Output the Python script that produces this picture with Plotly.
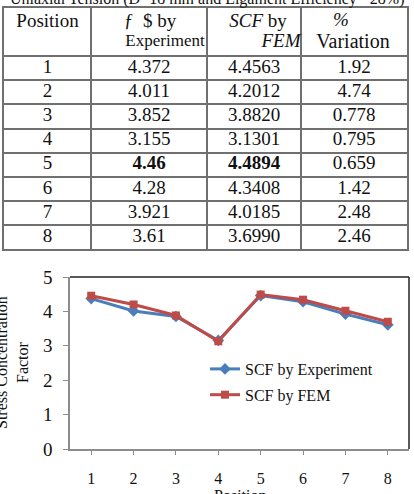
import plotly.graph_objects as go

# ---- data ----
positions = ["1", "2", "3", "4", "5", "6", "7", "8"]
scf_experiment = [4.372, 4.011, 3.852, 3.155, 4.46, 4.28, 3.921, 3.61]
scf_fem = [4.4563, 4.2012, 3.8820, 3.1301, 4.4894, 4.3408, 4.0185, 3.6990]
variation = [1.92, 4.74, 0.778, 0.795, 0.659, 1.42, 2.48, 2.46]
bold_position = "5"

header_line1 = ["Position", "ƒ  $ by", "<i>SCF</i> by", "<i>%</i>"]
header_line2 = ["", "Experiment", "<i>FEM</i>", "Variation"]
table_title = "Uniaxial Tension (D=18 mm and Ligament Efficiency =28%)"
series_names = ["SCF by Experiment", "SCF by FEM"]
y_ticks = [0, 1, 2, 3, 4, 5]

# ---- layout / style ----
W, H = 414, 494
SERIF = "Liberation Serif, Times New Roman, serif"
col_widths = [87, 116, 94, 106]
header_rows = 2          # header is two row-units tall
line1_shift = [0, 1, 4, -13]   # small horizontal offsets of header lines (px)
line1_y = [0.6, 0.6, 0.6, 0.55]
line2_shift = [0, 16, 27, -1]
line2_y = [1.42, 1.42, 1.42, 1.47]
line2_size = [19, 17, 19, 20]
GRID = "#707070"


def px_x(p):
    return p / W


def px_y(p):
    return 1 - p / H


def b(s, pos):
    return f"<b>{s}</b>" if pos == bold_position else s


col_edges = [0]
for w in col_widths:
    col_edges.append(col_edges[-1] + w)
col_centers = [(col_edges[i] + col_edges[i + 1]) / 2 for i in range(len(col_widths))]
n_rows = len(positions)
row_edges = [header_rows + i for i in range(n_rows)]

columns = [
    list(positions),
    [b(str(v), p) for v, p in zip(scf_experiment, positions)],
    [b(f"{v:.4f}", p) for v, p in zip(scf_fem, positions)],
    [str(v) for v in variation],
]

cell_x, cell_y, cell_t, cell_s = [], [], [], []
for j, col in enumerate(columns):
    for i, t in enumerate(col):
        cell_x.append(col_centers[j])
        cell_y.append(header_rows + i + 0.5)
        cell_t.append(t)
        cell_s.append(19)
for j in range(4):
    cell_x.append(col_centers[j] + line1_shift[j])
    cell_y.append(line1_y[j])
    cell_t.append(header_line1[j])
    cell_s.append(19)
    if header_line2[j]:
        cell_x.append(col_centers[j] + line2_shift[j])
        cell_y.append(line2_y[j])
        cell_t.append(header_line2[j])
        cell_s.append(line2_size[j])

fig = go.Figure()

# table drawn on its own axes
fig.add_trace(go.Scatter(
    x=cell_x, y=cell_y, text=cell_t, mode="text", textposition="middle center",
    textfont=dict(family=SERIF, size=cell_s, color="#111"),
    xaxis="x2", yaxis="y2", showlegend=False, hoverinfo="skip", cliponaxis=False,
))

fig.add_trace(go.Scatter(
    x=positions, y=scf_experiment, name=series_names[0], mode="lines+markers",
    line=dict(color="#4A7EBB", width=3),
    marker=dict(symbol="diamond", size=9, color="#4A7EBB"),
    legendgroup="a",
))
fig.add_trace(go.Scatter(
    x=positions, y=scf_fem, name=series_names[1], mode="lines+markers",
    line=dict(color="#BE4B48", width=3),
    marker=dict(symbol="square", size=8, color="#BE4B48"),
    legendgroup="b",
))

fig.update_layout(
    width=W, height=H,
    margin=dict(l=0, r=0, t=0, b=0),
    paper_bgcolor="white", plot_bgcolor="white",
    font=dict(family=SERIF, color="#111"),
    xaxis=dict(domain=[px_x(70), px_x(409)], type="category",
               range=[-0.5, 7.5], showgrid=False, zeroline=False,
               showline=True, linecolor="#8c8c8c", linewidth=1.5,
               ticks="outside", ticklen=4, tickcolor="#8c8c8c",
               ticklabelstandoff=10,
               tickfont=dict(family=SERIF, size=16, color="#111"),
               automargin=False, fixedrange=True),
    yaxis=dict(domain=[px_y(449), px_y(277)], range=[0, 5],
               tickvals=y_ticks, showgrid=False, zeroline=False,
               showline=True, linecolor="#8c8c8c", linewidth=1.5,
               ticks="outside", ticklen=5, tickcolor="#8c8c8c",
               ticklabelstandoff=7,
               tickfont=dict(family=SERIF, size=19, color="#111"),
               automargin=False, fixedrange=True),
    xaxis2=dict(domain=[px_x(4), px_x(407)], anchor="y2",
                range=[col_edges[0], col_edges[-1]],
                tickvals=col_edges[1:-1], showticklabels=False, ticks="",
                showgrid=True, gridcolor=GRID, gridwidth=1.5, zeroline=False,
                showline=True, mirror=True, linecolor=GRID, linewidth=1.5,
                automargin=False, fixedrange=True),
    yaxis2=dict(domain=[px_y(249), px_y(8)], anchor="x2",
                range=[header_rows + n_rows, 0],
                tickvals=row_edges, showticklabels=False, ticks="",
                showgrid=True, gridcolor=GRID, gridwidth=1.5, zeroline=False,
                showline=True, mirror=True, linecolor=GRID, linewidth=1.5,
                automargin=False, fixedrange=True),
    showlegend=True,
    legend=dict(x=px_x(205), y=px_y(352), xanchor="left", yanchor="top",
                bgcolor="rgba(0,0,0,0)", tracegroupgap=2,
                font=dict(family=SERIF, size=16, color="#111")),
    shapes=[
        dict(type="line", xref="x domain", yref="y domain", x0=0, x1=1, y0=1, y1=1,
             line=dict(color="#222", width=1.5)),
        dict(type="line", xref="x domain", yref="y domain", x0=1, x1=1, y0=0, y1=1,
             line=dict(color="#222", width=1.5)),
    ],
    annotations=[
        dict(text=table_title, xref="paper", yref="paper", x=px_x(207), y=px_y(10),
             xanchor="center", yanchor="bottom", showarrow=False,
             font=dict(family=SERIF, size=16, color="#111")),
        dict(text="Stress Concentration<br>Factor", xref="paper", yref="paper",
             x=px_x(12), y=px_y(363), xanchor="center", yanchor="middle",
             textangle=-90, showarrow=False,
             font=dict(family=SERIF, size=16, color="#111")),
        dict(text="Position", xref="paper", yref="paper", x=px_x(240), y=px_y(485),
             xanchor="center", yanchor="top", showarrow=False,
             font=dict(family=SERIF, size=16, color="#111")),
    ],
)

fig.write_html("out.html", config=dict(displayModeBar=False))
